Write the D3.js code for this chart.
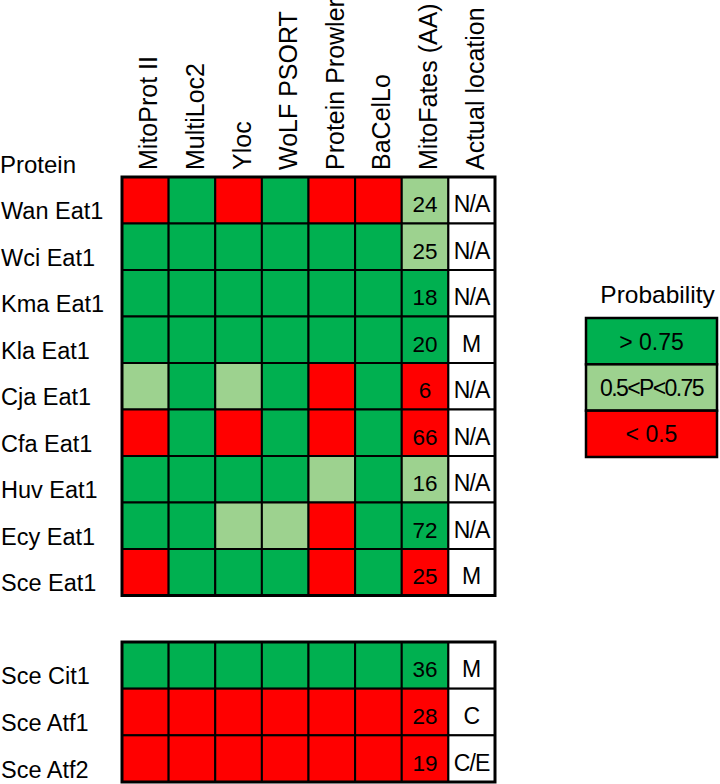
<!DOCTYPE html>
<html>
<head>
<meta charset="utf-8">
<script src="https://cdn.jsdelivr.net/npm/d3@7"></script>
<style>
  body { margin: 0; background: #fff; }
  svg { font-family: "Liberation Sans", Arial, sans-serif; }
</style>
</head>
<body>
<svg width="720" height="784"></svg>
<script>
const tools = ["MitoProt II", "MultiLoc2", "Yloc", "WoLF PSORT", "Protein Prowler", "BaCelLo", "MitoFates (AA)", "Actual location"];

const proteinsA = ["Wan Eat1", "Wci Eat1", "Kma Eat1", "Kla Eat1", "Cja Eat1", "Cfa Eat1", "Huv Eat1", "Ecy Eat1", "Sce Eat1"];
const proteinsB = ["Sce Cit1", "Sce Atf1", "Sce Atf2"];

// probability class per tool (first 7 columns): H > 0.75, M 0.5-0.75, L < 0.5
const probA = [
  ["L", "H", "L", "H", "L", "L", "M"],
  ["H", "H", "H", "H", "H", "H", "M"],
  ["H", "H", "H", "H", "H", "H", "H"],
  ["H", "H", "H", "H", "H", "H", "H"],
  ["M", "H", "M", "H", "L", "H", "L"],
  ["L", "H", "L", "H", "L", "H", "L"],
  ["H", "H", "H", "H", "M", "H", "M"],
  ["H", "H", "M", "M", "L", "H", "H"],
  ["L", "H", "H", "H", "L", "H", "L"]
];
const probB = [
  ["H", "H", "H", "H", "H", "H", "H"],
  ["L", "L", "L", "L", "L", "L", "L"],
  ["L", "L", "L", "L", "L", "L", "L"]
];

const mitoFatesA = [24, 25, 18, 20, 6, 66, 16, 72, 25];
const mitoFatesB = [36, 28, 19];
const locationA = ["N/A", "N/A", "N/A", "M", "N/A", "N/A", "N/A", "N/A", "M"];
const locationB = ["M", "C", "C/E"];

const legendKeys = ["H", "M", "L"];
const legendLabels = ["> 0.75", "0.5<P<0.75", "< 0.5"];

const svg = d3.select("svg");

const color = d3.scaleOrdinal()
  .domain(["H", "M", "L", "none"])
  .range(["#00b050", "#9dd28f", "#ff0000", "#ffffff"]);

const x = d3.scaleBand().domain(tools).range([122, 495]);

const yA = d3.scaleBand().domain(proteinsA).range([177, 595.5]);
const yB = d3.scaleBand().domain(proteinsB).range([642, 782]);

// header labels
svg.append("text")
  .attr("x", 0)
  .attr("y", 173)
  .attr("font-size", 24)
  .text("Protein");

svg.append("g")
  .selectAll("text")
  .data(tools)
  .join("text")
  .attr("transform", (d) => `translate(${x(d) + x.bandwidth() / 2 + 12}, 170) rotate(-90)`)
  .attr("font-size", 25)
  .text((d) => d);

function drawBlock(names, probs, fates, locs, y) {
  const rows = names.map((name, i) => ({ name, prob: probs[i], fate: fates[i], loc: locs[i] }));
  const cells = [];
  rows.forEach((r) => {
    tools.forEach((t, j) => {
      cells.push({
        row: r.name,
        tool: t,
        cls: j < 7 ? r.prob[j] : "none",
        label: j === 6 ? r.fate : j === 7 ? r.loc : null
      });
    });
  });

  const g = svg.append("g");

  g.selectAll("rect.cell")
    .data(cells)
    .join("rect")
    .attr("class", "cell")
    .attr("x", (d) => x(d.tool))
    .attr("y", (d) => y(d.row))
    .attr("width", x.bandwidth())
    .attr("height", y.bandwidth())
    .attr("fill", (d) => color(d.cls))
    .attr("stroke", "#000")
    .attr("stroke-width", 2);

  g.append("rect")
    .attr("x", x.range()[0])
    .attr("y", y.range()[0])
    .attr("width", x.range()[1] - x.range()[0])
    .attr("height", y.range()[1] - y.range()[0])
    .attr("fill", "none")
    .attr("stroke", "#000")
    .attr("stroke-width", 3);

  g.selectAll("text.val")
    .data(cells.filter((d) => d.label !== null))
    .join("text")
    .attr("class", "val")
    .attr("x", (d) => x(d.tool) + x.bandwidth() / 2)
    .attr("y", (d) => y(d.row) + y.bandwidth() / 2 + 12)
    .attr("text-anchor", "middle")
    .attr("font-size", (d) => (d.tool === "Actual location" ? 23 : 22.5))
    .attr("letter-spacing", (d) => (d.tool === "Actual location" && d.label.length > 1 ? -0.8 : 0))
    .text((d) => d.label);

  g.selectAll("text.row")
    .data(names)
    .join("text")
    .attr("class", "row")
    .attr("x", 1)
    .attr("y", (d) => y(d) + y.bandwidth() - 4.5)
    .attr("font-size", 23.5)
    .text((d) => d);
}

drawBlock(proteinsA, probA, mitoFatesA, locationA, yA);
drawBlock(proteinsB, probB, mitoFatesB, locationB, yB);

// legend
const ly = d3.scaleBand().domain(legendKeys).range([318, 457]);
const lx0 = 586, lx1 = 717;
const legend = svg.append("g");

legend.append("text")
  .attr("x", (lx0 + lx1) / 2 + 6)
  .attr("y", 303)
  .attr("text-anchor", "middle")
  .attr("font-size", 24.5)
  .text("Probability");

legend.selectAll("rect")
  .data(legendKeys)
  .join("rect")
  .attr("x", lx0)
  .attr("y", (d) => ly(d))
  .attr("width", lx1 - lx0)
  .attr("height", ly.bandwidth())
  .attr("fill", (d) => color(d))
  .attr("stroke", "#000")
  .attr("stroke-width", 2.5);

legend.selectAll("text.lab")
  .data(legendKeys)
  .join("text")
  .attr("class", "lab")
  .attr("x", (lx0 + lx1) / 2)
  .attr("y", (d) => ly(d) + ly.bandwidth() / 2 + 8.5)
  .attr("text-anchor", "middle")
  .attr("font-size", 23)
  .attr("letter-spacing", (d, i) => (i === 1 ? -1.6 : 0))
  .text((d, i) => legendLabels[i]);
</script>
</body>
</html>
